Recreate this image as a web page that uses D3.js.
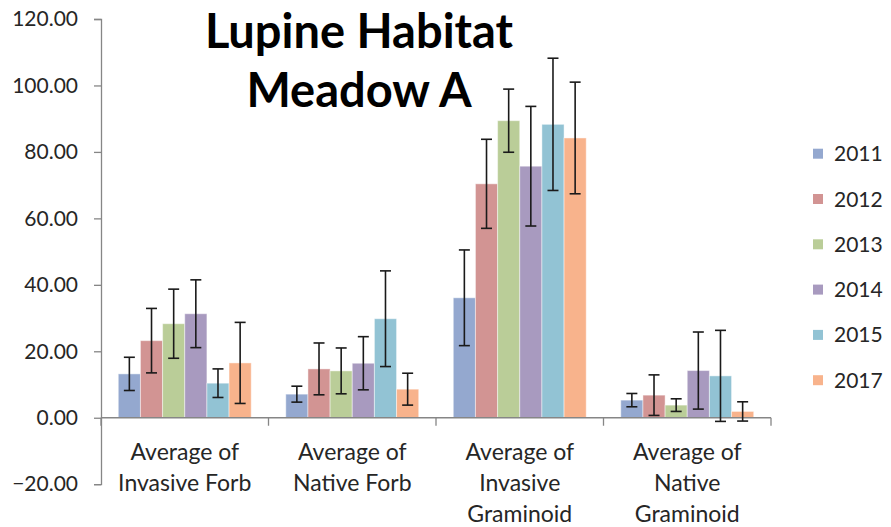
<!DOCTYPE html>
<html>
<head>
<meta charset="utf-8">
<script src="https://cdn.jsdelivr.net/npm/d3@7"></script>
<style>
  body { margin: 0; background: #fff; }
  text { font-family: Lato, "Open Sans", sans-serif; fill: #262626; }
</style>
</head>
<body>
<div id="chart"></div>
<script>
// data
var categories = [
  ["Average of", "Invasive Forb"],
  ["Average of", "Native Forb"],
  ["Average of", "Invasive", "Graminoid"],
  ["Average of", "Native", "Graminoid"]
];
var years = ["2011", "2012", "2013", "2014", "2015", "2017"];
var colors = ["#94a8cf", "#d29493", "#bacd98", "#a89abf", "#92c3d4", "#f8b38c"];

var mean2011 = [13.2, 7.1, 36.1, 5.3];
var mean2012 = [23.2, 14.7, 70.4, 6.8];
var mean2013 = [28.3, 14.1, 89.4, 3.8];
var mean2014 = [31.3, 16.4, 75.7, 14.2];
var mean2015 = [10.4, 29.8, 88.3, 12.6];
var mean2017 = [16.5, 8.6, 84.2, 1.9];

var err2011 = [5.0, 2.4, 14.4, 2.0];
var err2012 = [9.7, 7.8, 13.4, 6.1];
var err2013 = [10.4, 6.9, 9.5, 1.9];
var err2014 = [10.2, 8.0, 18.0, 11.6];
var err2015 = [4.3, 14.4, 19.9, 13.7];
var err2017 = [12.2, 4.8, 16.8, 2.9];

var yTicks = [-20, 0, 20, 40, 60, 80, 100, 120];

var means = [mean2011, mean2012, mean2013, mean2014, mean2015, mean2017];
var errs = [err2011, err2012, err2013, err2014, err2015, err2017];

var svgWidth = 891;
var svgHeight = 527;

var svg = d3.select("#chart")
    .append("svg")
    .attr("width", svgWidth)
    .attr("height", svgHeight);

var plotLeft = 101;
var plotRight = 771;

var yScale = d3.scaleLinear()
    .domain([-20, 120])
    .range([484.2, 19]);

var xScale = d3.scaleBand()
    .domain(d3.range(categories.length))
    .range([plotLeft, plotRight]);

var xInner = d3.scaleBand()
    .domain(years)
    .range([0, xScale.bandwidth()])
    .paddingOuter(0.78);

var rows = [];
years.forEach(function(yr, s) {
  categories.forEach(function(c, i) {
    rows.push({ year: yr, s: s, cat: i, mean: means[s][i], err: errs[s][i] });
  });
});

// bars
svg.append("g").selectAll("rect")
    .data(rows)
    .enter()
    .append("rect")
    .attr("x", d => xScale(d.cat) + xInner(d.year))
    .attr("width", xInner.bandwidth())
    .attr("y", d => yScale(Math.max(0, d.mean)))
    .attr("height", d => Math.abs(yScale(d.mean) - yScale(0)))
    .attr("fill", d => colors[d.s])
    .attr("stroke", "rgba(255,255,255,0.45)")
    .attr("stroke-width", 1);

// y axis
var yAxis = d3.axisLeft(yScale)
    .tickValues(yTicks)
    .tickFormat(d3.format(".2f"))
    .tickSize(7)
    .tickPadding(16);

var yG = svg.append("g")
    .attr("transform", `translate(${plotLeft}, 0)`)
    .call(yAxis);
yG.select(".domain").attr("stroke", "#868686").attr("stroke-width", 1.3);
yG.selectAll(".tick line").attr("stroke", "#868686").attr("stroke-width", 1.3);
yG.selectAll(".tick text")
    .attr("font-size", "21px")
    .style("font-family", "Lato, sans-serif")
    .attr("fill", "#262626");

// x axis at zero
var zeroY = yScale(0);
svg.append("line")
    .attr("x1", plotLeft)
    .attr("x2", plotRight)
    .attr("y1", zeroY)
    .attr("y2", zeroY)
    .attr("stroke", "#868686")
    .attr("stroke-width", 1.3);

svg.append("g").selectAll("line")
    .data(d3.range(categories.length + 1))
    .enter()
    .append("line")
    .attr("x1", d => d < categories.length ? xScale(d) : plotRight)
    .attr("x2", d => d < categories.length ? xScale(d) : plotRight)
    .attr("y1", zeroY)
    .attr("y2", zeroY + 8)
    .attr("stroke", "#868686")
    .attr("stroke-width", 1.3);

// error bars
var capW = 11;
var errG = svg.append("g")
    .attr("stroke", "#1a1a1a")
    .attr("stroke-width", 1.6);

rows.forEach(function(d) {
  var cx = xScale(d.cat) + xInner(d.year) + xInner.bandwidth() / 2;
  var yTop = yScale(d.mean + d.err);
  var yBot = yScale(d.mean - d.err);
  errG.append("line").attr("x1", cx).attr("x2", cx).attr("y1", yTop).attr("y2", yBot);
  errG.append("line").attr("x1", cx - capW / 2).attr("x2", cx + capW / 2).attr("y1", yTop).attr("y2", yTop);
  errG.append("line").attr("x1", cx - capW / 2).attr("x2", cx + capW / 2).attr("y1", yBot).attr("y2", yBot);
});

// category labels
var catText = svg.append("g").selectAll("text")
    .data(categories)
    .enter()
    .append("text")
    .attr("text-anchor", "middle")
    .attr("font-size", "23px");

catText.selectAll("tspan")
    .data((d, i) => d.map(line => ({ line: line, i: i })))
    .enter()
    .append("tspan")
    .attr("x", d => xScale(d.i) + xScale.bandwidth() / 2)
    .attr("y", (d, j) => 460 + j * 31)
    .text(d => d.line);

// title
var title = svg.append("text")
    .attr("text-anchor", "middle")
    .attr("font-size", "47px")
    .attr("font-weight", "bold");
title.append("tspan").attr("x", 359).attr("y", 48).style("fill", "#000").text("Lupine Habitat");
title.append("tspan").attr("x", 359).attr("y", 106.5).style("fill", "#000").text("Meadow A");

// legend
var legend = svg.append("g").selectAll("g")
    .data(years)
    .enter()
    .append("g")
    .attr("transform", (d, i) => `translate(813, ${153.7 + i * 45.3})`);

legend.append("rect")
    .attr("x", 0)
    .attr("y", -5)
    .attr("width", 10)
    .attr("height", 10)
    .attr("fill", (d, i) => colors[i]);

legend.append("text")
    .attr("x", 21)
    .attr("y", 7.5)
    .attr("font-size", "21px")
    .text(d => d);
</script>
</body>
</html>
